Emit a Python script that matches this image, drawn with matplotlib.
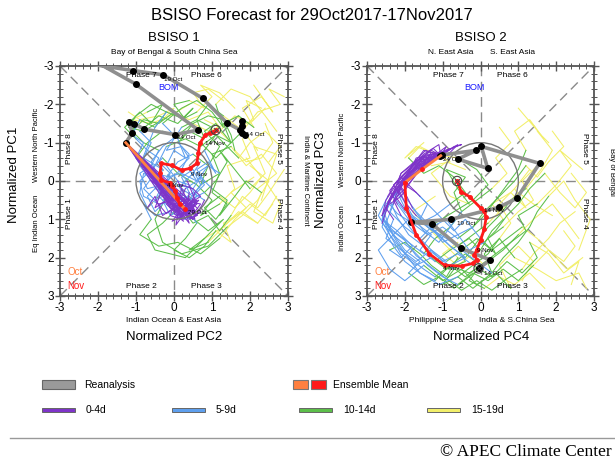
import matplotlib
matplotlib.use('Agg')
import matplotlib.pyplot as plt
from matplotlib.patches import Rectangle, Circle
from matplotlib.ticker import MultipleLocator

plt.rcParams['font.family'] = ['Liberation Sans', 'DejaVu Sans']
plt.rcParams['axes.unicode_minus'] = False

# ---------------- data ----------------
title = "BSISO Forecast for 29Oct2017-17Nov2017"
panel_titles = ["BSISO 1", "BSISO 2"]
ticks = [-3, -2, -1, 0, 1, 2, 3]
lead_labels = ["0-4d", "5-9d", "10-14d", "15-19d"]
lead_colors = ["#7E34C9", "#5E9FEE", "#5CBF4A", "#F2EF6A"]

# BSISO 1 : x = PC2, y = PC1
b1_reana_x = [1.87, 1.80, 1.78, 1.78, 1.74, 1.39, 0.75, -0.28, -1.07, -2.60, -2.60, -1.01, 0.64, 0.03, -0.78, -1.04, -1.18, -1.10, -1.27]
b1_reana_y = [-1.20, -1.26, -1.57, -1.43, -1.33, -1.52, -2.16, -2.77, -2.88, -3.11, -3.41, -2.53, -1.33, -1.21, -1.35, -1.49, -1.53, -1.25, -1.00]
b1_mean_x = [-1.27, 0.28, 0.15, 0.08, 0.03, -0.05, -0.10, -0.33, -0.37, -0.33, -0.06, 0.20, 0.42, 0.60, 0.64, 0.68, 0.82, 0.95, 1.02, 1.10]
b1_mean_y = [-1.00, 0.72, 0.60, 0.45, 0.25, 0.12, 0.05, -0.02, -0.20, -0.46, -0.41, -0.28, -0.33, -0.46, -0.72, -0.98, -1.20, -1.25, -1.28, -1.33]
b1_members_x = [
    [-1.27, 0.30, 0.20, 0.10, 0.40, 0.30, 0.00, -0.40, -0.60, -0.30, 0.10, 0.50, 0.90, 1.30, 1.50, 1.60, 1.90, 2.30, 2.60, 2.40],
    [-1.27, 0.50, 0.60, 0.40, 0.70, 0.50, 0.30, 0.60, 0.40, 0.10, -0.20, -0.50, -0.30, 0.20, 0.90, 1.40, 1.80, 2.20, 2.50, 2.00],
    [-1.27, 0.00, 0.10, -0.20, 0.00, -0.30, -0.60, -0.90, -0.70, -0.50, -0.20, -0.60, -1.00, -1.20, -0.80, -0.30, 0.00, -0.40, -0.90, -1.20],
    [-1.27, 0.60, 0.40, 0.70, 0.50, 0.20, 0.50, 0.70, 0.40, 0.60, 0.90, 1.20, 0.80, 1.10, 1.50, 1.80, 2.20, 2.80, 2.50, 2.90],
    [-1.27, 0.10, 0.05, 0.30, 0.00, -0.40, -0.80, -0.90, -0.60, -0.20, 0.20, -0.30, -0.70, -0.50, 0.30, 0.80, 1.30, 1.70, 2.20, 2.60],
    [-1.27, 0.40, 0.20, 0.50, 0.30, 0.10, -0.20, 0.00, 0.30, 0.10, -0.30, 0.20, 0.60, 1.00, 1.30, 1.10, 1.50, 2.00, 2.40, 2.70],
    [-1.27, -0.20, 0.00, -0.30, -0.50, -0.70, -0.90, -0.80, -0.40, 0.00, 0.40, 0.90, 1.30, 0.80, 0.40, 0.90, 1.40, 1.90, 1.50, 2.10],
    [-1.27, 0.50, 0.30, 0.60, 0.30, 0.40, 0.20, 0.50, 0.70, 0.40, 0.80, 1.10, 1.40, 1.20, 1.60, 2.00, 2.40, 2.10, 2.70, 2.30],
    [-1.27, 0.20, 0.40, 0.10, 0.20, -0.10, -0.50, -0.30, -0.80, -0.60, -0.90, -0.40, 0.10, 0.50, 0.20, 0.60, 1.00, 0.70, 1.20, 1.60],
    [-1.27, 0.30, 0.60, 0.40, 0.10, 0.30, 0.60, 0.20, -0.20, 0.10, 0.50, 0.90, 0.70, 1.20, 1.00, 1.50, 1.90, 2.30, 2.70, 2.20],
    [-1.27, 0.00, -0.10, 0.20, 0.10, -0.20, -0.50, -0.70, -0.40, -0.60, -0.30, 0.10, 0.60, 1.00, 0.70, 1.20, 1.60, 1.40, 2.00, 1.80],
    [-1.27, 0.40, 0.30, 0.00, 0.30, 0.00, -0.30, -0.60, -0.40, -0.70, -1.00, -1.30, -0.90, -0.60, -0.30, -0.70, -1.10, -0.60, -0.10, 0.40],
    [-1.27, 0.60, 0.45, 0.65, 0.40, 0.55, 0.80, 0.60, 0.90, 1.10, 0.80, 1.10, 1.50, 1.30, 1.70, 2.10, 1.80, 2.30, 2.60, 2.10],
    [-1.27, -0.40, -0.20, -0.50, -0.30, -0.60, -0.80, -1.00, -0.80, -1.10, -0.90, -0.50, -0.20, 0.30, 0.00, 0.40, 0.80, 0.50, 0.90, 1.30],
    [-1.27, 0.20, 0.35, 0.10, 0.45, 0.60, 0.30, -0.10, -0.50, -0.80, -0.60, -0.90, -0.40, 0.10, 0.70, 1.20, 1.60, 2.00, 2.40, 2.70],
    [-1.27, 0.45, 0.20, 0.50, 0.25, 0.00, 0.30, 0.10, 0.50, 0.70, 1.00, 1.40, 1.20, 1.60, 1.90, 2.30, 2.10, 2.60, 2.80, 2.40],
    [-1.27, -0.10, 0.15, -0.05, 0.25, -0.10, -0.40, -0.20, 0.20, 0.40, 0.10, 0.40, 0.80, 0.60, 0.90, 1.30, 1.70, 2.10, 1.90, 2.30],
    [-1.27, 0.35, 0.55, 0.30, 0.60, 0.80, 0.50, 0.20, -0.10, -0.40, -0.70, -1.00, -0.70, -0.30, 0.20, 0.50, 0.90, 1.40, 1.90, 2.20],
    [-1.27, 0.05, 0.25, 0.50, 0.20, 0.40, 0.10, -0.30, -0.10, 0.30, 0.60, 0.30, 0.00, 0.40, 0.80, 1.10, 1.50, 1.30, 1.80, 2.20],
    [-1.27, 0.55, 0.70, 0.45, 0.55, 0.30, 0.00, -0.30, -0.10, -0.40, -0.20, 0.30, 0.70, 1.10, 1.40, 1.70, 2.00, 2.40, 2.80, 2.50],
    [-1.27, -0.30, -0.10, 0.15, -0.20, -0.50, -0.30, -0.70, -0.90, -0.60, -0.40, -0.80, -1.10, -0.80, -0.40, 0.00, 0.40, 0.90, 1.20, 0.80],
    [-1.27, 0.15, 0.45, 0.25, 0.05, 0.20, 0.50, 0.80, 0.60, 0.90, 1.20, 1.00, 1.40, 1.10, 0.80, 1.20, 1.60, 2.00, 2.30, 1.90],
    [-1.27, 0.40, 0.10, 0.35, 0.60, 0.35, 0.10, 0.40, 0.20, -0.20, 0.20, 0.60, 1.00, 0.70, 1.10, 1.50, 1.20, 1.60, 2.00, 2.40],
    [-1.27, 0.25, 0.00, 0.20, -0.15, -0.35, -0.10, -0.50, -0.80, -0.50, -0.10, 0.20, 0.50, 0.90, 1.20, 1.50, 1.80, 2.20, 2.50, 2.90],
]
b1_members_y = [
    [-1.00, 0.80, 0.60, 0.90, 0.70, 0.50, 0.20, -0.10, -0.50, -0.90, -1.20, -1.50, -1.70, -1.60, -1.20, -0.80, -0.50, -0.60, -1.00, -1.50],
    [-1.00, 0.70, 0.90, 1.00, 0.80, 0.60, 0.70, 0.40, 0.10, 0.00, 0.40, 1.00, 1.60, 1.90, 1.70, 1.20, 0.90, 0.50, 0.00, -0.40],
    [-1.00, 0.50, 0.30, 0.60, 0.80, 0.40, 0.00, -0.40, -0.90, -1.40, -1.80, -2.00, -1.70, -1.40, -1.30, -1.60, -1.90, -1.70, -1.60, -1.80],
    [-1.00, 0.90, 0.60, 0.40, 0.20, 0.10, -0.20, -0.50, -0.30, 0.00, -0.40, -0.90, -1.30, -1.50, -1.00, -1.30, -1.80, -2.00, -2.40, -2.20],
    [-1.00, 0.90, 1.15, 0.80, 0.50, 0.60, 0.40, 0.00, -0.30, 0.10, 0.60, 1.10, 1.40, 1.80, 2.00, 1.50, 1.20, 0.80, 1.10, 0.60],
    [-1.00, 0.60, 0.90, 0.70, 0.40, 0.00, -0.40, -0.80, -0.60, -1.10, -1.50, -1.90, -2.10, -1.80, -1.40, -2.00, -2.40, -2.20, -1.70, -1.30],
    [-1.00, 0.40, 0.70, 0.90, 0.40, 0.70, 0.30, -0.20, 0.00, 0.40, 0.90, 1.30, 1.00, 1.50, 1.80, 1.60, 1.10, 0.70, 0.30, -0.10],
    [-1.00, 1.00, 0.80, 0.60, 0.90, 0.30, -0.10, -0.30, 0.10, 0.50, 0.30, 0.00, -0.50, -0.80, -0.30, 0.20, -0.20, -0.90, -0.70, 0.50],
    [-1.00, 0.80, 0.50, 0.40, 0.70, 0.30, 0.20, -0.30, -0.60, -1.00, -1.30, -1.70, -1.50, -1.90, -1.60, -1.80, -2.20, -2.50, -2.30, -1.90],
    [-1.00, 0.70, 0.50, 0.80, 0.60, 0.20, 0.00, -0.20, -0.10, -0.50, -0.70, -0.40, 0.10, -0.20, -0.70, -0.90, -0.40, -0.70, -0.20, 0.20],
    [-1.00, 0.60, 0.90, 1.00, 0.70, 0.50, 0.80, 0.40, 0.10, -0.30, -0.60, -0.20, 0.10, 0.50, 0.90, 0.60, 0.20, -0.40, -0.60, -1.10],
    [-1.00, 1.10, 0.80, 0.60, 0.50, 0.40, 0.10, -0.20, -0.60, -0.80, -1.10, -1.40, -1.80, -1.50, -2.00, -1.80, -1.60, -1.50, -1.70, -2.00],
    [-1.00, 0.90, 0.70, 0.50, 0.75, 0.30, 0.00, -0.30, -0.50, -0.20, -0.80, -1.20, -1.00, -1.50, -1.70, -1.40, -1.90, -2.20, -1.80, -2.50],
    [-1.00, 0.30, 0.50, 0.70, 0.20, 0.00, -0.30, -0.60, -1.00, -1.20, -1.60, -1.40, -1.80, -1.60, -2.00, -2.10, -1.90, -2.30, -2.40, -2.10],
    [-1.00, 0.90, 0.65, 0.75, 0.55, 0.90, 1.00, 0.80, 0.90, 0.60, 1.00, 1.40, 1.70, 1.60, 1.90, 1.50, 1.00, 0.60, 0.90, 0.40],
    [-1.00, 0.55, 0.85, 1.00, 0.60, 0.70, 0.40, 0.10, 0.20, -0.10, 0.20, 0.50, 0.90, 0.40, 0.00, 0.30, 0.80, 1.10, 0.60, 0.00],
    [-1.00, 0.55, 0.80, 1.05, 0.90, 0.70, 0.40, 0.00, -0.30, -0.70, -1.00, -1.30, -1.10, -1.60, -2.00, -1.70, -1.40, -1.60, -2.10, -1.90],
    [-1.00, 0.65, 0.45, 0.70, 0.90, 0.50, 0.30, 0.50, 0.30, 0.00, -0.30, -0.60, -1.00, -1.30, -1.10, -1.50, -1.30, -1.50, -1.20, -0.80],
    [-1.00, 0.75, 1.00, 0.85, 0.65, 0.45, 0.30, 0.50, 0.90, 0.70, 1.10, 1.50, 1.80, 2.00, 1.70, 1.30, 1.60, 1.10, 0.80, 1.10],
    [-1.00, 0.80, 0.60, 0.55, 1.00, 0.80, 0.50, 0.20, -0.20, -0.50, -0.90, -1.10, -0.90, -1.20, -0.90, -0.60, -1.00, -1.30, -0.90, -0.50],
    [-1.00, 0.20, 0.45, 0.60, 0.85, 0.50, 0.10, 0.20, -0.20, -0.40, -0.80, -1.00, -1.30, -1.60, -1.50, -1.80, -1.60, -1.80, -1.40, -1.60],
    [-1.00, 0.60, 0.75, 0.95, 0.75, 0.20, 0.40, 0.10, -0.20, -0.40, -0.20, 0.30, 0.60, 1.00, 0.70, 0.40, 0.70, 0.30, -0.10, -0.60],
    [-1.00, 0.95, 0.75, 0.45, 0.60, 0.00, -0.30, -0.60, -0.90, -0.80, -1.40, -1.60, -1.40, -1.00, -0.60, -1.00, -1.30, -1.70, -1.50, -1.90],
    [-1.00, 1.05, 0.85, 0.65, 0.60, 0.30, -0.10, -0.20, 0.20, 0.50, 0.30, 0.70, 1.10, 0.90, 1.30, 0.90, 0.40, 0.70, 0.30, -0.30],
]

# BSISO 2 : x = PC4, y = PC3
b2_reana_x = [-0.05, 0.26, -0.51, -1.28, -1.83, -0.78, 0.48, 0.96, 1.56, 0.02, 0.19, -0.60, -0.11, -1.01, -1.08]
b2_reana_y = [2.28, 2.06, 1.76, 1.12, 1.08, 1.00, 0.69, 0.45, -0.46, -0.90, -0.33, -0.57, -0.80, -0.68, -0.66]
b2_mean_x = [-1.05, -1.55, -2.00, -1.96, -1.70, -1.35, -0.95, -0.50, -0.20, -0.10, -0.16, -0.10, 0.00, 0.10, 0.15, 0.10, 0.00, -0.29, -0.51, -0.62]
b2_mean_y = [-0.66, -0.30, 0.04, 0.71, 1.40, 1.90, 2.20, 2.22, 2.15, 2.05, 1.92, 1.80, 1.55, 1.25, 0.95, 0.78, 0.70, 0.41, 0.28, 0.00]
b2_members_x = [
    [-1.05, -1.40, -1.80, -2.00, -2.10, -2.30, -2.50, -2.20, -1.90, -1.50, -1.20, -0.80, -0.30, 0.20, 0.60, 1.00, 1.40, 1.90, 2.30, 2.60],
    [-1.05, -1.30, -1.70, -2.10, -2.30, -2.60, -2.40, -2.00, -1.60, -1.10, -0.60, -0.20, 0.30, 0.10, 0.50, 0.90, 1.50, 2.00, 2.60, 2.80],
    [-1.05, -0.70, -0.50, -0.90, -1.40, -1.90, -2.20, -2.40, -2.00, -1.60, -1.20, -0.70, -0.20, 0.20, -0.10, -0.60, -1.20, -1.70, -2.00, -1.50],
    [-1.05, -1.50, -1.90, -2.20, -2.00, -1.80, -1.40, -0.90, -0.50, -0.10, 0.30, 0.60, 1.00, 1.30, 1.50, 1.80, 2.20, 2.50, 2.90, 2.60],
    [-1.05, -1.30, -1.60, -2.00, -2.20, -2.00, -1.70, -1.30, -0.90, -0.60, -0.20, 0.10, 0.40, 0.70, 1.00, 1.20, 0.90, 1.30, 1.60, 1.00],
    [-1.05, -1.60, -2.00, -2.30, -2.50, -2.60, -2.30, -2.70, -2.40, -2.00, -1.50, -1.00, -0.50, -0.10, 0.40, 0.80, 0.50, 1.00, 1.40, 1.10],
    [-1.05, -0.80, -1.20, -1.60, -1.90, -1.60, -1.30, -1.00, -0.70, -0.40, 0.00, 0.40, 0.80, 1.20, 1.00, 1.50, 2.00, 2.40, 2.10, 2.70],
    [-1.05, -1.40, -1.90, -2.30, -2.10, -2.40, -2.60, -2.20, -1.80, -2.10, -2.40, -2.00, -1.60, -1.30, -0.90, -0.60, -1.00, -1.40, -1.80, -1.20],
    [-1.05, -1.20, -1.70, -1.90, -2.00, -1.70, -1.40, -1.60, -1.20, -0.80, -0.40, -0.10, 0.20, 0.50, 0.80, 1.20, 1.60, 1.90, 1.50, 1.80],
    [-1.05, -1.50, -1.80, -2.10, -1.90, -2.10, -1.80, -1.50, -1.10, -0.80, -0.50, -0.70, -0.40, -0.90, -0.60, -0.30, -0.80, -1.30, -0.90, -0.40],
    [-1.05, -1.30, -1.60, -2.00, -2.30, -2.10, -1.80, -1.40, -1.00, -0.60, -0.20, 0.30, 0.70, 1.10, 1.50, 1.30, 1.80, 2.20, 2.60, 2.40],
    [-1.05, -1.10, -1.50, -1.80, -2.00, -2.20, -2.00, -1.70, -1.30, -1.60, -1.20, -0.80, -0.30, 0.00, 0.30, 0.60, 0.30, 0.80, 1.20, 0.90],
    [-1.05, -1.45, -1.85, -2.20, -2.40, -2.60, -2.20, -1.80, -1.40, -1.00, -0.60, -0.20, 0.20, 0.60, 1.00, 1.40, 1.80, 2.20, 2.50, 2.20],
    [-1.05, -1.25, -1.65, -1.95, -2.25, -2.45, -2.70, -2.40, -2.10, -1.70, -1.30, -0.90, -0.40, -0.60, -0.20, 0.20, 0.60, 1.00, 1.40, 1.90],
    [-1.05, -0.60, -0.80, -1.20, -1.60, -2.00, -2.30, -2.00, -1.60, -1.20, -0.80, -0.40, -0.70, -1.10, -1.50, -1.90, -1.60, -1.20, -0.80, -1.30],
    [-1.05, -1.35, -1.75, -2.05, -2.30, -2.50, -2.60, -2.30, -2.00, -1.60, -1.20, -0.80, -0.40, 0.00, -0.30, 0.10, 0.50, 0.90, 1.30, 1.70],
    [-1.05, -1.55, -1.95, -2.15, -2.00, -1.70, -1.30, -1.00, -0.60, -0.30, 0.10, 0.40, 0.70, 1.00, 1.30, 1.70, 2.10, 2.50, 2.80, 2.40],
    [-1.05, -1.20, -1.55, -1.85, -2.15, -2.40, -2.20, -1.90, -1.50, -1.10, -0.70, -1.00, -0.60, -0.20, 0.20, 0.50, 0.80, 0.50, 0.90, 1.30],
    [-1.05, -1.65, -2.05, -2.25, -2.50, -2.30, -2.50, -2.10, -1.70, -1.30, -0.90, -0.50, -0.10, 0.30, 0.70, 1.10, 1.50, 1.90, 2.30, 2.70],
    [-1.05, -1.40, -1.70, -2.05, -2.25, -2.00, -1.60, -1.20, -0.80, -0.40, -0.80, -0.40, 0.00, 0.40, 0.20, 0.60, 1.00, 1.40, 1.10, 1.50],
    [-1.05, -0.90, -1.30, -1.70, -2.00, -2.20, -2.50, -2.60, -2.30, -1.90, -1.50, -1.20, -0.80, -0.50, -0.10, 0.30, 0.70, 0.40, 0.80, 0.50],
    [-1.05, -1.50, -1.85, -2.20, -2.40, -2.20, -1.90, -2.30, -2.00, -1.60, -1.90, -1.50, -1.10, -0.70, -0.30, 0.10, -0.20, -0.60, -1.00, -0.60],
    [-1.05, -1.30, -1.75, -2.10, -2.25, -2.45, -2.20, -1.80, -1.40, -1.00, -0.60, -0.20, 0.10, 0.50, 0.90, 1.20, 1.50, 1.80, 2.20, 1.90],
    [-1.05, -1.45, -1.80, -2.00, -2.35, -2.55, -2.40, -2.00, -1.70, -1.30, -0.90, -0.50, -0.10, 0.30, 0.70, 1.10, 1.40, 1.80, 2.10, 2.50],
]
b2_members_y = [
    [-0.66, -0.70, -0.40, -0.10, 0.20, 0.60, 1.10, 1.60, 2.00, 2.30, 2.50, 2.20, 2.40, 2.10, 1.80, 1.40, 1.00, 0.60, 1.10, 1.50],
    [-0.66, -0.80, -0.50, -0.20, 0.30, 0.90, 1.40, 1.90, 2.40, 2.70, 2.50, 2.80, 2.40, 1.90, 1.50, 2.00, 2.30, 2.60, 2.40, 2.80],
    [-0.66, -0.90, -0.95, -0.80, -0.50, -0.20, 0.30, 0.80, 1.20, 1.50, 1.10, 0.80, 0.50, 0.10, -0.30, -0.60, -0.70, -0.90, -0.60, -1.00],
    [-0.66, -0.60, -0.30, 0.00, 0.30, 0.70, 1.20, 1.50, 1.80, 2.10, 2.40, 2.00, 1.60, 1.20, 0.80, 0.40, 0.00, 0.50, 1.00, 1.80],
    [-0.66, -0.75, -0.30, 0.10, 0.00, 0.40, 0.80, 1.20, 1.00, 1.40, 1.20, 0.90, 0.50, 0.10, -0.30, -0.80, -1.30, -1.60, -1.20, -1.90],
    [-0.66, -0.50, -0.10, 0.20, 0.50, 0.90, 1.40, 1.80, 2.30, 2.60, 2.20, 2.60, 2.30, 2.70, 2.40, 2.80, 2.20, 1.70, 2.10, 2.60],
    [-0.66, -0.85, -0.70, -0.30, 0.10, 0.40, 0.70, 1.00, 1.30, 1.00, 1.50, 1.90, 1.60, 1.30, 0.90, 0.60, 0.10, -0.40, -0.80, -0.30],
    [-0.66, -0.60, -0.20, 0.10, 0.40, 0.60, 1.00, 1.30, 1.70, 2.00, 1.80, 1.60, 1.90, 2.20, 2.50, 2.00, 1.60, 1.20, 0.80, 0.40],
    [-0.66, -0.70, -0.60, -0.20, 0.10, 0.30, 0.60, 1.00, 1.30, 1.70, 2.00, 1.60, 1.20, 0.90, 0.50, 0.20, -0.30, -0.80, -1.30, -1.00],
    [-0.66, -0.80, -0.40, -0.10, 0.10, 0.40, 0.90, 1.30, 1.60, 1.20, 0.80, 0.30, -0.10, -0.30, 0.20, 0.60, 0.40, -0.20, -0.50, -0.30],
    [-0.66, -0.55, -0.30, 0.20, 0.50, 0.90, 1.30, 1.70, 2.10, 1.90, 2.20, 2.50, 2.10, 2.40, 2.00, 1.60, 1.90, 2.40, 2.10, 2.70],
    [-0.66, -0.95, -0.70, -0.40, -0.10, 0.30, 0.70, 1.10, 1.40, 1.80, 2.10, 1.80, 1.50, 1.80, 1.30, 1.00, 0.60, 0.30, 0.70, 0.20],
    [-0.66, -0.45, -0.20, 0.15, 0.50, 1.10, 1.50, 1.80, 2.20, 2.50, 2.70, 2.40, 2.60, 2.30, 2.60, 2.20, 1.80, 2.10, 1.70, 1.30],
    [-0.66, -0.85, -0.55, -0.25, 0.05, 0.40, 0.90, 1.40, 1.90, 2.20, 2.00, 2.30, 2.10, 1.70, 1.40, 1.10, 0.70, 0.30, 0.60, 0.90],
    [-0.66, -0.95, -0.75, -0.60, -0.30, 0.00, 0.40, 0.80, 1.10, 0.90, 0.60, 0.30, -0.10, -0.40, -0.20, -0.60, -0.90, -0.70, -0.50, -0.40],
    [-0.66, -0.65, -0.35, 0.00, 0.35, 0.70, 1.20, 1.70, 2.10, 2.40, 2.60, 2.20, 1.90, 2.20, 2.60, 2.80, 2.50, 2.70, 2.40, 2.80],
    [-0.66, -0.55, -0.15, 0.25, 0.55, 0.90, 1.20, 1.60, 1.40, 1.80, 1.60, 1.30, 0.90, 0.60, 0.20, -0.20, 0.30, 0.70, 0.30, -0.20],
    [-0.66, -0.75, -0.45, -0.15, 0.15, 0.50, 0.95, 1.40, 1.70, 2.00, 2.30, 2.70, 2.50, 2.20, 1.90, 1.50, 1.10, 0.60, 0.20, -0.30],
    [-0.66, -0.40, -0.05, 0.30, 0.70, 1.00, 1.50, 1.80, 2.10, 1.80, 2.10, 1.80, 1.50, 1.80, 1.50, 1.20, 1.50, 1.90, 2.30, 2.00],
    [-0.66, -0.50, -0.25, 0.05, 0.40, 0.75, 1.05, 1.35, 1.70, 2.00, 2.20, 2.50, 2.20, 1.90, 1.50, 1.20, 0.80, 0.50, 0.00, -0.40],
    [-0.66, -0.90, -0.60, -0.35, 0.00, 0.30, 0.60, 1.00, 1.30, 1.60, 1.90, 1.50, 1.20, 0.80, 0.50, 0.20, -0.20, -0.60, -1.00, -1.40],
    [-0.66, -0.60, -0.30, 0.00, 0.25, 0.60, 1.00, 1.40, 1.80, 2.10, 2.40, 2.70, 2.50, 2.80, 2.50, 2.20, 1.90, 2.20, 1.90, 1.60],
    [-0.66, -0.70, -0.50, -0.20, 0.20, 0.55, 0.85, 1.10, 1.40, 1.20, 1.50, 1.20, 0.80, 0.40, 0.00, -0.40, -0.10, -0.50, -0.90, -1.30],
    [-0.66, -0.80, -0.45, -0.05, 0.35, 0.80, 1.25, 1.55, 1.95, 2.25, 2.55, 2.85, 2.60, 2.85, 2.55, 2.30, 1.90, 1.50, 1.10, 0.80],
]

b1_date_labels = [("14 Oct", 1.90, -1.20), ("19 Oct", -0.27, -2.66), ("24 Oct", 0.08, -1.13),
                  ("29 Oct", 0.38, 0.82), ("4 Nov", -0.18, 0.12), ("9 Nov", 0.45, -0.18), ("14 Nov", 0.82, -0.97)]
b2_date_labels = [("14 Oct", 0.10, 2.41), ("19 Oct", -0.62, 1.10), ("24 Oct", -0.98, -0.55),
                  ("4 Nov", -1.00, 2.28), ("9 Nov", -0.08, 1.82), ("14 Nov", 0.08, 0.76)]

# ---------------- figure ----------------
W, H = 615, 462
fig = plt.figure(figsize=(W / 100, H / 100), dpi=100)

ov = fig.add_axes([0, 0, 1, 1])
ov.set_xlim(0, W)
ov.set_ylim(H, 0)
ov.axis('off')


def rect(l, t, r, b):
    return [l / W, 1 - b / H, (r - l) / W, (b - t) / H]


ax1 = fig.add_axes(rect(60, 66, 288, 296))
ax2 = fig.add_axes(rect(367, 66, 594, 296))

dash = (0, (7, 4))
phase_pos = [("Phase 7", -0.85, -2.74, 0), ("Phase 6", 0.85, -2.74, 0),
             ("Phase 8", -2.74, -0.85, 90), ("Phase 1", -2.74, 0.85, 90),
             ("Phase 2", -0.85, 2.74, 0), ("Phase 3", 0.85, 2.74, 0),
             ("Phase 5", 2.74, -0.85, 270), ("Phase 4", 2.74, 0.85, 270)]


def draw_panel(ax, mx, my, rx, ry, ex, ey, labels, reana_circle):
    ax.set_xlim(-3, 3)
    ax.set_ylim(3, -3)
    for s in ax.spines.values():
        s.set_color('#555555')
        s.set_linewidth(1.3)
    ax.xaxis.set_minor_locator(MultipleLocator(0.2))
    ax.yaxis.set_minor_locator(MultipleLocator(0.2))
    ax.set_xticks(ticks)
    ax.set_yticks(ticks)
    ax.set_xticklabels([str(t) for t in ticks])
    ax.set_yticklabels([str(t) for t in ticks])
    ax.tick_params(which='major', direction='inout', length=7, width=1, color='#555555',
                   top=True, right=True, labelsize=8.5, pad=1)
    ax.tick_params(which='minor', direction='inout', length=4, width=0.7, color='#555555',
                   top=True, right=True)
    # guides
    for (x0, x1, y0, y1) in [(-3, 3, 0, 0), (0, 0, -3, 3), (-3, 3, -3, 3), (-3, 3, 3, -3)]:
        ax.plot([x0, x1], [y0, y1], color='#8a8a8a', lw=1.0, ls=dash, zorder=1)
    # members, later leads drawn first
    for k in [3, 2, 1, 0]:
        a, b = 5 * k, min(5 * k + 6, 20)
        for xs, ys in zip(mx, my):
            ax.plot(xs[a:b], ys[a:b], color=lead_colors[k], lw=0.75, zorder=2 + (3 - k) * 0.1)
    ax.add_patch(Circle((0, 0), 1, fill=False, ec='#777777', lw=1.0, zorder=3))
    # reanalysis
    ax.plot(rx, ry, color='#8f8f8f', lw=2.6, zorder=4, solid_capstyle='round')
    ax.plot(rx, ry, ls='none', marker='o', ms=4, color='black', zorder=4.5)
    # ensemble mean
    ax.plot(ex[:3], ey[:3], color='#FF8040', lw=2.0, zorder=5)
    ax.plot(ex[2:], ey[2:], color='#FF1A1A', lw=2.0, zorder=5)
    ax.plot(ex[1:], ey[1:], ls='none', marker='o', ms=2.5, color='#FF1A1A', zorder=5.5)
    ax.scatter([ex[-1]], [ey[-1]], s=45, facecolors='none', edgecolors='#444444', lw=0.8, zorder=6)
    ax.scatter([ex[-1]], [ey[-1]], s=14, marker='x', color='#444444', lw=0.6, zorder=6)
    if reana_circle:
        ax.scatter([rx[0]], [ry[0]], s=45, facecolors='none', edgecolors='#444444', lw=0.8, zorder=6)
        ax.scatter([rx[0]], [ry[0]], s=14, marker='x', color='#444444', lw=0.6, zorder=6)
    for txt, x, y in labels:
        ax.text(x, y, txt, fontsize=4.5, ha='left', va='center', zorder=7)
    for txt, x, y, r in phase_pos:
        ax.text(x, y, txt, fontsize=6, ha='center', va='center', rotation=r, zorder=7)
    ax.text(-0.15, -2.45, "BOM", color='#1a1aff', fontsize=6.5, ha='center', va='center', zorder=7)
    ax.text(-2.8, 2.37, "Oct", color='#FF8040', fontsize=7, ha='left', va='center', zorder=7)
    ax.text(-2.8, 2.73, "Nov", color='#FF1A1A', fontsize=7, ha='left', va='center', zorder=7)


draw_panel(ax1, b1_members_x, b1_members_y, b1_reana_x, b1_reana_y, b1_mean_x, b1_mean_y,
           b1_date_labels, False)
draw_panel(ax2, b2_members_x, b2_members_y, b2_reana_x, b2_reana_y, b2_mean_x, b2_mean_y,
           b2_date_labels, True)

# surrounding text, in pixel coordinates
ov.text(312, 15, title, fontsize=12, ha='center', va='center')
ov.text(174, 38, panel_titles[0], fontsize=9.5, ha='center', va='center')
ov.text(481, 38, panel_titles[1], fontsize=9.5, ha='center', va='center')

ov.text(174, 53, "Bay of Bengal & South China Sea", fontsize=6, ha='center', va='center')
ov.text(174, 320, "Indian Ocean & East Asia", fontsize=6, ha='center', va='center')
ov.text(174, 337, "Normalized PC2", fontsize=9.5, ha='center', va='center')
ov.text(14, 175, "Normalized PC1", fontsize=9.5, ha='center', va='center', rotation=90)
ov.text(36, 145, "Western North Pacific", fontsize=5.5, ha='center', va='center', rotation=90)
ov.text(36, 223, "Eq Indian Ocean", fontsize=5.5, ha='center', va='center', rotation=90)
ov.text(306, 180, "India & Maritime Continent", fontsize=5.5, ha='center', va='center', rotation=270)

ov.text(451, 53, "N. East Asia", fontsize=6, ha='center', va='center')
ov.text(513, 53, "S. East Asia", fontsize=6, ha='center', va='center')
ov.text(436, 320, "Philippine Sea", fontsize=6, ha='center', va='center')
ov.text(517, 320, "India & S.China Sea", fontsize=6, ha='center', va='center')
ov.text(481, 337, "Normalized PC4", fontsize=9.5, ha='center', va='center')
ov.text(321, 180, "Normalized PC3", fontsize=9.5, ha='center', va='center', rotation=90)
ov.text(343, 150, "Western North Pacific", fontsize=5.5, ha='center', va='center', rotation=90)
ov.text(343, 228, "Indian Ocean", fontsize=5.5, ha='center', va='center', rotation=90)
ov.text(612, 172, "Bay of Bengal", fontsize=5.5, ha='center', va='center', rotation=270)

# legend
ov.add_patch(Rectangle((42, 380), 33, 9, fc='#9a9a9a', ec='#666666', lw=0.8))
ov.text(84, 384.5, "Reanalysis", fontsize=7.5, ha='left', va='center')
ov.add_patch(Rectangle((293, 380), 15, 9, fc='#FF8040', ec='#777777', lw=0.8))
ov.add_patch(Rectangle((311, 380), 15, 9, fc='#FF1A1A', ec='#777777', lw=0.8))
ov.text(333, 384.5, "Ensemble Mean", fontsize=7.5, ha='left', va='center')
leg_x = [42, 172, 299, 427]
for k in range(4):
    ov.add_patch(Rectangle((leg_x[k], 408), 33, 4, fc=lead_colors[k], ec='#666666', lw=0.7))
    ov.text(leg_x[k] + 44, 410, lead_labels[k], fontsize=7.5, ha='left', va='center')

ov.plot([10, 615], [437.5, 437.5], color='#999999', lw=1)
ov.text(612, 452, "\u00a9 APEC Climate Center", fontsize=12.5, ha='right', va='center',
        family=['Liberation Serif', 'DejaVu Serif'])

fig.savefig('out.png', dpi=100)
